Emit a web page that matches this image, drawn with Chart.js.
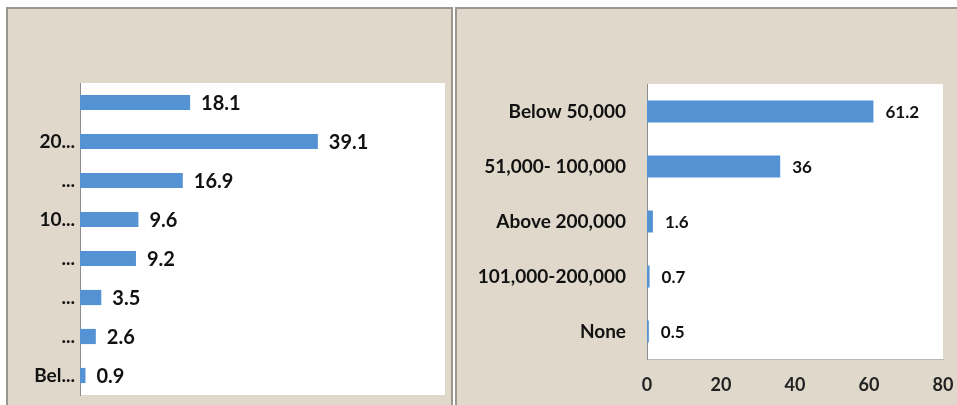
<!DOCTYPE html>
<html>
<head>
<meta charset="utf-8">
<script src="https://cdn.jsdelivr.net/npm/chart.js@4.4.0/dist/chart.umd.min.js"></script>
<style>
  body { margin: 0; background: #fff; width: 957px; height: 405px; overflow: hidden; position: relative; }
  .panel { position: absolute; background: #dfd8cb; border: 2px solid #9a9690; box-sizing: border-box; }
  #p1 { left: 6px; top: 7px; width: 447px; height: 410px; }
  #p2 { left: 455px; top: 7px; width: 510px; height: 410px; }
  canvas { position: absolute; left: 0; top: 0; }
</style>
</head>
<body>
<div class="panel" id="p1"><canvas id="c1" width="443" height="398"></canvas></div>
<div class="panel" id="p2"><canvas id="c2" width="500" height="398"></canvas></div>
<script>
// left chart data
const leftLabels = ["", "20...", "...", "10...", "...", "...", "...", "Bel..."];
const leftValues = [18.1, 39.1, 16.9, 9.6, 9.2, 3.5, 2.6, 0.9];

// right chart data
const rightLabels = ["Below 50,000", "51,000- 100,000", "Above 200,000", "101,000-200,000", "None"];
const rightValues = [61.2, 36, 1.6, 0.7, 0.5];
const rightTicks = [0, 20, 40, 60, 80];

const barColor = "#5592d4";
const font = "Lato";

// white plot area
const plotBg = {
  id: "plotBg",
  beforeDraw(chart) {
    const a = chart.chartArea;
    chart.ctx.save();
    chart.ctx.fillStyle = "#fff";
    chart.ctx.fillRect(a.left, a.top, a.right - a.left, a.bottom - a.top);
    chart.ctx.restore();
  }
};

// value labels at the end of the bars
const valueLabels = {
  id: "valueLabels",
  afterDatasetsDraw(chart, args, opts) {
    const ctx = chart.ctx;
    const meta = chart.getDatasetMeta(0);
    ctx.save();
    ctx.font = opts.font;
    ctx.fillStyle = "#111";
    ctx.textBaseline = "middle";
    meta.data.forEach((bar, i) => {
      ctx.fillText(String(chart.data.datasets[0].data[i]), bar.x + opts.gap, bar.y + 1);
    });
    ctx.restore();
  }
};

new Chart(document.getElementById("c1"), {
  type: "bar",
  data: {
    labels: leftLabels,
    datasets: [{ data: leftValues, backgroundColor: barColor, barPercentage: 0.39, categoryPercentage: 1 }]
  },
  options: {
    indexAxis: "y",
    responsive: false,
    animation: false,
    layout: { padding: { top: 74, bottom: 12, right: 6, left: 0 } },
    plugins: {
      legend: { display: false },
      tooltip: { enabled: false },
      valueLabels: { font: "bold 20px " + font, gap: 11 }
    },
    scales: {
      x: { display: false, min: 0, max: 60 },
      y: {
        grid: { display: false, drawTicks: false },
        border: { display: true, color: "#8d8d8d", width: 1 },
        ticks: { color: "#111", font: { family: font, size: 19, weight: "bold" }, padding: 5 },
        afterFit(s) { s.width = 72; s.paddingTop = 0; s.paddingBottom = 0; }
      }
    }
  },
  plugins: [plotBg, valueLabels]
});

new Chart(document.getElementById("c2"), {
  type: "bar",
  data: {
    labels: rightLabels,
    datasets: [{ data: rightValues, backgroundColor: barColor, barPercentage: 0.4, categoryPercentage: 1 }]
  },
  options: {
    indexAxis: "y",
    responsive: false,
    animation: false,
    layout: { padding: { top: 75, bottom: 0, right: 14, left: 0 } },
    plugins: {
      legend: { display: false },
      tooltip: { enabled: false },
      valueLabels: { font: "bold 17px " + font, gap: 12 }
    },
    scales: {
      x: {
        min: 0, max: 80,
        afterBuildTicks(s) { s.ticks = rightTicks.map(v => ({ value: v })); },
        grid: { display: false, drawTicks: false },
        border: { display: true, color: "#b8b8b8", width: 1 },
        ticks: { color: "#222", font: { family: font, size: 18, weight: "bold" }, padding: 15, maxRotation: 0 },
        afterFit(s) { s.height = 48; s.paddingLeft = 0; s.paddingRight = 0; }
      },
      y: {
        grid: { display: false, drawTicks: false },
        border: { display: true, color: "#8d8d8d", width: 1 },
        ticks: { color: "#111", font: { family: font, size: 19, weight: "bold" }, padding: 21 },
        afterFit(s) { s.width = 190; s.paddingTop = 0; s.paddingBottom = 0; }
      }
    }
  },
  plugins: [plotBg, valueLabels]
});
</script>
</body>
</html>
